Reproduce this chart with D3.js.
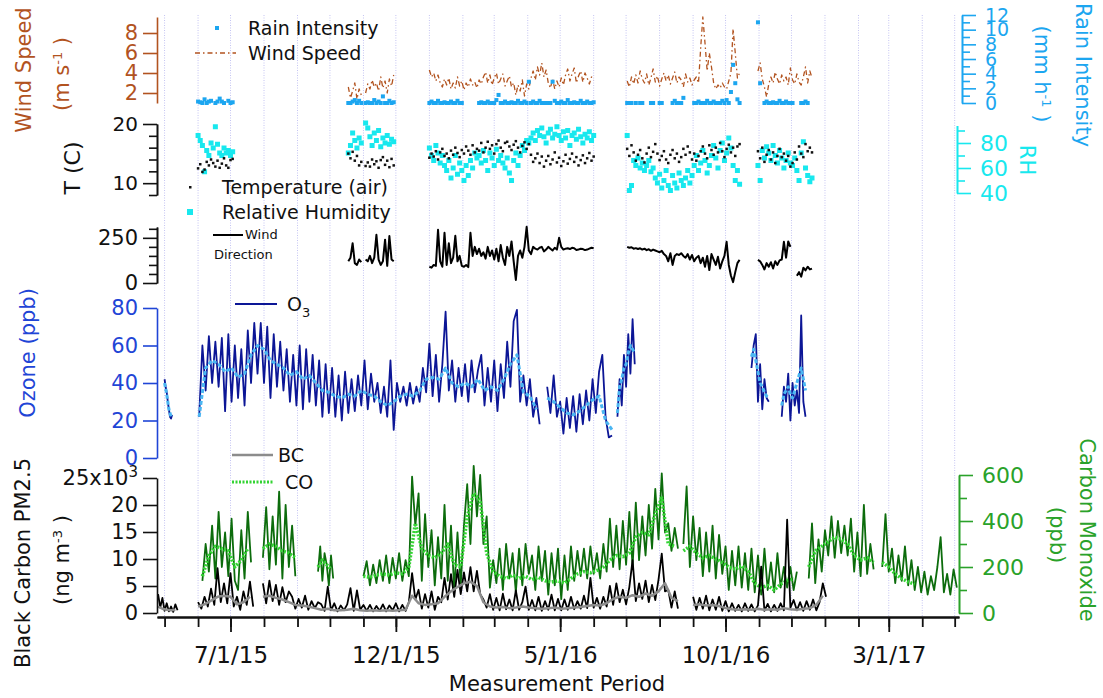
<!DOCTYPE html>
<html>
<head>
<meta charset="utf-8">
<script src="https://cdn.jsdelivr.net/npm/d3@7"></script>
<style>
  body { margin: 0; background: #fff; }
  text { font-family: "DejaVu Sans", sans-serif; }
</style>
</head>
<body>
<script>
'use strict';

// every series is a list of runs: [first day, days between values, values]
// null means no data for that day

// wind speed (m s-1)
const windSpeed = [
  ["2015-10-18", 2, [2.6, 1.5, 2.2, 3.0, 1.4, 2.4, 1.8, null, 2.0, 2.9, 2.4, 3.3, 2.6, 3.0, 2.2, 3.6, 2.5, 3.2, 2.0, 3.4, 2.7, 3.8]],
  ["2016-01-01", 2, [4.3, 3.6, 4.0, 3.2, 3.8,
    3.0, 2.6, 3.4, 2.8, 3.5, 2.4, 3.0, 2.5, 3.6, 2.7, 3.2, 2.3, 3.0, 2.6, 3.4, 2.8, 3.1, 2.5, 3.3, 2.9,
    3.6, 4.1, 3.0, 3.8, 2.8, 3.5, 4.0, 2.9, 3.4, 3.9, 2.7, 3.2, 3.7,
    2.6, 3.0, 1.8, 2.8, 2.2, 3.3, 1.7, 2.9, 2.4,
    3.5, 4.2, 3.3, 4.6, 3.8, 5.0, 3.6, 4.3,
    3.0, 2.5, 3.4, 2.4, 3.2, 2.6, 3.5, 2.8,
    3.8, 4.4, 3.2, 3.9, 4.5, 3.0, 3.7, 4.2, 3.1, 4.0, 3.5, 2.9, 3.6, 3.3]],
  ["2016-07-02", 2, [3.2, 2.6, 3.6, 2.9, 3.8, 3.0, 4.2, 3.4, 3.0, 3.9, 2.8, 3.5, 4.4, 3.1, 3.7, 2.7, 3.4, 4.0,
    3.2, 3.8, 2.9, 3.5, 4.1, 3.0, 3.6, 3.3, 2.6, 3.9, 3.1, 3.5, 2.8, 3.3, 3.6,
    3.0, 6.5, 9.6, 7.0, 4.2, 6.0, 4.6, 3.0, 2.4, 2.8, 2.5, 3.0, 2.6, 2.4, 3.2, 4.0, 8.4, 6.0, 3.5, 4.0]],
  ["2016-10-31", 2, [4.2, 5.0, 3.4, 2.6, 1.6, 2.9, 3.6, 3.0, 4.1, 3.4, 2.9, 3.8, 3.2, 3.6, 2.8, 4.5, 3.3, 2.9, 3.9, 3.1, 2.8, 3.6, 4.6, 3.0, 4.2, 3.5]]
];

// rain intensity (mm h-1)
const rainIntensity = [
  ["2015-06-01", 2, [0.2, 0.1, 0, 0.5, 0, 0.2, 0.3, null, 0, 0.2, 0.6, 0.2, 0, null, 0.3, 0, 0.1]],
  ["2015-10-18", 2, [0, 0, 0.2, 0.4, 0, 0.3, 0, null, 0, 0.1, 0, 0, 0.4, 0, 0.2, 0, 0.9, 0, 0, 0.3, 0, 0.1]],
  ["2016-01-01", 2, [0, 0.2, 0, 0, 0.3, 0, 0, 0.1, 0, 0, 0.2, 0, 0, 0.3, 0, 0,
    null, null, null, null, null, null, null,
    0, 0.1, 0, 0, 0.2, 0, 0, 0, 0.4, 1.1, 0, 0, 0.2, 0, 0, 0.1, 0, 0, 0.3, 0, 0, 0.2, 0, 2.9,
    0, 0.2, 0, 0, 0.3, 0, 0, 0, 0, 0, 2.9, 0.3, 0, 0, 0.2, 0, 0, 0.4, 0, 0, 0.1, 0, 0, 0.3, 0, 0, 0.2, 0, 0, 0.1]],
  ["2016-07-02", 2, [0, 0, 0, null, 0, null, 0, 0, null, null, null, 0, 0, null, null, 0, 0, null, null, null,
    null, 0, 0.3, 0, 0, 0, 0.7, null, null, null, null, 0, 0, 0.2, 0, 0, 0, 0.3, 0, 0,
    0.2, 0, 0, 0, 0.3, 0, 0.4, 0, 1.5, 5.2, 2.7, 0.5, 0]],
  ["2016-10-31", 2, [11.0, 2.7, null, 0, 0.2, 0, 0, 0.1, 0, 0, 0.3, 0, 0, 0.2, 0, 0, 0, null, null, null, 0, 0, 0.2, 0, null, null]]
];

// air temperature (C)
const temperature = [
  ["2015-06-01", 2, [12.5, 13.2, 11.9, 12.3, 13.6, 13.0, 14.0, 13.4, 12.8, 13.8, 12.6, 13.3, 14.2, 13.0, 12.6, 13.9, 14.1]],
  ["2015-10-18", 2, [15.0, 14.2, 15.3, 13.8, 14.6, 13.0, 13.6, null, 12.9, 13.5, 12.8, 14.0, 13.2, 13.7, 12.6, 13.9, 14.4, 13.1, 13.8, 12.7, 14.1, 13.0]],
  ["2016-01-01", 2, [14.3, 15.0, 14.5, 15.4, 14.0, 15.2, 15.8, 14.6, 15.0, 14.2, 15.5, 14.8, 16.0, 15.1, 14.4, 15.6,
    15.0, 16.2, 15.5, 14.8, 16.4, 15.2, 15.8,
    15.5, 16.8, 15.2, 16.0, 17.0, 15.8, 16.4, 15.0, 16.6, 17.2, 16.0, 15.4, 16.8, 17.0, 16.2, 15.6, 16.5, 17.1, 16.0, 15.2, 16.3, 16.9, 15.8, 16.6,
    14.8, 13.6, 14.2, 15.0, 13.4, 14.5, 12.8, 13.8, 14.6, 13.2, 14.0, 15.2, 13.5, 14.3, 12.9, 13.7, 14.8, 13.3, 14.1, 15.0, 13.6, 14.4, 13.0, 13.9, 14.7, 13.4, 14.2, 15.1, 13.8, 14.5]],
  ["2016-07-02", 2, [15.8, 14.6, 16.4, 15.2, 13.8, 14.8, 15.6, 14.2, 13.5, 15.0, 16.0, 14.4, 15.3, 16.6, 15.0, 13.9, 14.6, 15.4, 14.0, 13.4,
    14.8, 15.6, 14.2, 15.0, 13.6, 14.4, 15.8, 14.8, 16.2, 15.2, 14.0, 15.0, 13.8, 14.6, 15.4, 16.2, 15.0, 14.2, 16.4, 15.6,
    14.8, 16.0, 15.2, 16.8, 15.4, 14.4, 15.8, 16.5, 15.2, 16.0, 14.6, 16.2, 16.6]],
  ["2016-10-31", 2, [15.4, 14.2, 16.0, 13.6, 14.8, 15.6, 14.0, 15.2, 13.4, 14.6, 15.8, 14.4, 15.0, 13.8, 14.6, 12.8, 13.4, 15.2, 14.0, 16.2, 15.0, 14.4, 16.6, 15.4, 16.0, 15.2]]
];

// relative humidity (%)
const humidity = [
  ["2015-06-01", 2, [86, 82, 78, 57, 74, 70, 80, 76, 93, 79, 72, 70, 76, 72, 74, 70, 73]],
  ["2015-10-18", 2, [72, 78, 88, 82, 76, 84, 80, null, 96, 92, 85, 78, 88, 82, 90, 77, 84, 80, 86, 79, 83, 81]],
  ["2016-01-01", 2, [76, 70, 66, 78, 72, 64, 70, 62, 58, 66, 52, 60, 70, 55, 64, 58,
    50, 62, 54, 66, 60, 72, 68,
    70, 64, 74, 66, 58, 72, 68, 62, 75, 66, 70, 64, 60, 68, 56, 50, 66, 72, 62, 70, 78, 74, 82, 80,
    84, 88, 82, 90, 86, 92, 85, 80, 88, 91, 84, 87, 93, 86, 82, 89, 84, 90, 78, 86, 88, 83, 91, 85, 80, 87, 84, 89, 82, 86]],
  ["2016-07-02", 2, [86, 42, 46, 66, 62, 68, 60, 64, 58, 62, 66, 57, 60, 52, 48, 55, 44, 50, 58, 46,
    42, 54, 48, 44, 56, 50, 46, 52, 58, 48, 54, 62, 70, 58, 64, 74, 66, 56, 62, 70,
    78, 68, 60, 74, 80, 66, 72, 84, 76, 62, 50, 58, 47]],
  ["2016-10-31", 2, [62, 50, 74, 68, 77, 72, 66, 78, 70, 64, 74, 68, 60, 66, 72, 64, 62, 68, 58, 50, 72, 81, 60, 54, 49, 52]]
];

// wind direction (degrees)
const windDirection = [
  ["2015-10-18", 2, [120, 140, 220, 110, 100, 130, 115, null, 130, 120, 150, 110, 140, 267, 130, 100, 120, 240, 95, 260, 130, 120]],
  ["2016-01-01", 2, [90, 85, 100, 95, 295, 120, 90, 278, 100, 220, 110, 140, 261, 120, 150, 95, 90, 100, 88, 278,
    150, 200, 160, 190, 150, 170, 135, 200, 150, 180, 130, 190, 120, 210, 140, 100, 200, 150, 230, 120,
    17, 150, 180, 140, 200, 311, 180, 160, 200, 190, 185, 195, 200, 175, 185, 200, 190, 180, 195, 185,
    250, 200, 185, 190, 192, 188, 195, 192, 183, 185, 190, 188, 182, 185, 190, 195, 192]],
  ["2016-07-02", 2, [200, 195, 198, 190, 193, 188, 192, 185, 190, 182, 187, 178, 185, 180, 175, 170, 178, 160, 150, 120,
    165, 100, 150, 160, 155, 165, 150, 140, 160, 130, 155, 120, 140, 150, 110, 140, 90, 150, 72, 160,
    130, 100, 145, 80, 120, 150, 228, 100, 40, 5, 60, 110, 128]],
  ["2016-10-31", 2, [128, 120, 100, 75, 110, 90, 115, 80, 120, 100, 125, 130, 228, 140, 230, 200, null, null, 40, 60, 35, 85, 70, 90, 75, 80]]
];

// ozone (ppb), measured and smoothed
const ozone = [
  ["2015-05-01", 1, [42, 38, 35, 30, 26, 22, 21, 23]],
  ["2015-06-02", 3, [22, 60, 36, 65, 40, 62, 38, 64, 25, 66,
    30, 60, 32, 58, 28, 68, 40, 72, 45, 72,
    40, 70, 32, 66, 38, 62, 36, 58, 30, 55,
    28, 60, 26, 58, 30, 55, 28, 52, 22, 50,
    24, 48, 22, 44, 20, 46, 24, 42, 25, 44,
    28, 52, 26, 45, 30, 40, 24, 38, 22, 52,
    15, 40, 30, 38, 28, 40, 29, 38, 30, 48,
    35, 61, 33, 55, 30, 50, 78, 36, 52, 30,
    48, 33, 50, 30, 52, 35, 47, 55, 28, 48,
    30, 52, 25, 50, 32, 62, 38, 73, 79, 30,
    44, 28, 42, 22, 32, 18]],
  ["2016-04-19", 3, [38, 24, 44, 22, 30, 13, 32, 16, 33, 14, 34, 18, 36, 20, 42, 24, 46, 55, 22, 11, 12]],
  ["2016-06-23", 2, [22, 42, 28, 55, 38, 66, 45, 74, 50]],
  ["2016-10-25", 2, [48, 60, 66, 30, 50, 26, 42, 32, 30]],
  ["2016-11-22", 2, [22, 38, 30, 45, 20, 40, 28, 36, 24, 76, 30, 22]]
];
const ozoneSmooth = [
  ["2015-05-01", 2, [40, 34, 26, 22]],
  ["2015-06-02", 6, [22, 48, 52, 50, 46, 48, 43, 45, 55, 60, 58, 52, 50, 48, 44, 46, 42, 44, 40, 36,
    35, 33, 32, 34, 33, 36, 34, 33, 30, 28, 30, 33, 34, 33, 36, 42, 43, 42, 48, 40,
    38, 40, 38, 42, 36, 38, 36, 42, 50, 55, 35, 33, 26]],
  ["2016-04-19", 6, [32, 30, 27, 24, 23, 25, 28, 31, 33, 20, 15]],
  ["2016-06-23", 2, [24, 38, 42, 48, 50, 56, 60, 58, 56]],
  ["2016-10-25", 2, [54, 58, 52, 46, 40, 38, 35, 33, 32]],
  ["2016-11-22", 2, [28, 34, 36, 38, 34, 32, 36, 40, 44, 48, 42, 36]]
];

// black carbon PM2.5 (10^3 ng m-3), measured and smoothed
const blackCarbon = [
  ["2015-04-25", 2, [3.5, 1.0, 2.8, 0.4, 1.8, 0.3, 1.2, 0.2, 1.6, 0.5]],
  ["2015-06-01", 3, [2.0, 0.8, 3.0, 1.2, 4.5, 1.5, 8.3, 2.0, 5.5, 1.8, 7.4, 1.2, 3.0, 0.6, 4.0, 1.5, 5.8, 1.2]],
  ["2015-07-31", 3, [5.5, 1.8, 6.0, 2.2, 5.2, 1.5, 4.8, 2.0, 4.0,
    3.0, 0.8, 2.6, 1.0, 3.2, 0.6, 2.2, 0.9, 2.0,
    1.6, 0.4, 4.9, 0.5, 1.8, 0.3, 1.4, 0.5, 1.6, 4.6, 0.4, 4.2, 0.6, 1.5,
    0.4, 1.5, 0.3, 1.3, 0.4, 1.6, 0.3, 1.4, 0.5, 1.8, 0.3, 1.5, 0.4, 2.0,
    7.4, 2.5,
    4.3, 0.8, 3.5, 1.0, 4.0, 0.6, 3.0,
    2.0, 6.5, 2.5, 7.2, 3.0, 8.0, 3.5, 7.5, 4.0,
    8.5, 4.0, 7.8, 3.5,
    2.5, 1.0,
    3.5, 0.6, 2.8, 0.5, 3.6, 0.7, 2.5, 0.5, 4.2, 0.6, 2.0, 4.9, 0.6, 2.4, 0.5, 3.0, 0.4, 2.2, 0.6, 3.4, 0.5, 2.6,
    0.5, 2.5, 0.6, 3.0, 0.7, 2.2, 0.8, 3.2, 0.9, 6.5, 1.0, 2.8, 0.8, 3.0, 1.2,
    5.0, 1.5, 5.5, 2.0, 4.3, 1.6, 4.8,
    9.8, 2.2, 5.5, 2.6, 6.0, 2.0, 5.2, 2.4, 6.2,
    11.0, 4.0,
    4.3, 1.0, 4.0, 0.8]],
  ["2016-09-01", 3, [3.0, 0.6, 2.8, 0.8, 3.2, 0.5, 2.5, 0.6, 3.0, 0.4, 2.2,
    0.3, 1.8, 0.4, 1.5, 0.3, 1.8, 0.4, 1.6, 0.3, 1.4, 8.6, 0.4, 1.7, 0.3, 1.5, 0.4, 1.8, 0.5,
    17.3,
    1.0, 2.4, 0.5, 2.0, 0.4, 2.2, 0.6, 2.5, 0.5, 2.0,
    5.5, 3.0]]
];
const blackCarbonSmooth = [
  ["2015-04-25", 4, [1.2, 0.8, 0.6, 0.5, 0.6]],
  ["2015-06-01", 6, [1.2, 1.6, 2.3, 3.0, 3.2, 3.0, 1.6, 2.0, 3.0]],
  ["2015-07-31", 6, [3.0, 3.2, 2.8, 2.5, 2.0, 1.5, 1.4, 1.2, 0.9, 0.6, 0.8, 0.5, 0.5, 0.6, 0.8, 0.5, 0.4, 0.5, 0.4, 0.5,
    0.4, 0.5, 0.6, 3.2, 1.8, 1.5, 1.6, 1.8, 3.0, 4.0, 4.8, 5.5, 5.8, 5.0, 2.0, 1.2, 1.0, 1.1, 0.9, 1.0,
    1.2, 1.0, 0.9, 0.8, 0.9, 1.0, 0.8, 0.9, 1.0, 1.1, 1.3, 1.5, 1.4, 1.8, 2.6, 3.0, 2.8, 3.3, 3.0, 3.6,
    3.2, 4.0, 5.5, 2.8, 2.2]],
  ["2016-09-01", 6, [1.5, 1.6, 1.4, 1.5, 1.3, 0.9, 0.7, 0.6, 0.7, 0.6, 0.8, 0.6, 0.7, 0.6, 0.9, 0.7, 0.6, 0.8, 0.9, 1.5, 3.2]]
];

// carbon monoxide (ppb), measured and smoothed
const carbonMonoxide = [
  ["2015-06-05", 3, [140, 300, 180, 380, 150, 440, 200, 350, 160, 410, 140, 100, 360, 150, 440, 220]],
  ["2015-07-31", 3, [240, 460, 190, 420, 210, 528, 150, 470, 200, 380, 160]],
  ["2015-09-20", 2, [180, 290, 140, 260, 210, 120, 250, 150]],
  ["2015-11-01", 3, [160, 225, 120, 210, 130, 230, 140,
    250, 130, 240, 150, 260, 140, 230, 160,
    593, 380,
    520, 140, 430, 200,
    360, 120, 330,
    150, 470, 140, 380,
    100, 350, 120,
    380, 560, 300, 640, 420, 600,
    300, 420,
    110, 230,
    130, 280, 100, 300, 150, 260, 90, 280, 120, 300, 170, 250, 100, 290, 140, 270, 80, 260, 120, 280,
    60, 250, 100,
    290, 140, 270, 160, 280, 150, 290, 170, 260, 150, 300,
    180, 410, 200, 380, 190, 400, 210, 440,
    200, 480, 230, 420, 250, 470,
    280, 540, 320, 607, 350,
    390, 270, 370, 280]],
  ["2016-08-23", 3, [300, 550, 200, 420, 230, 370, 160, 350, 180, 380, 150, 340, 170, 290, 100, 270, 120, 290,
    110, 260, 100, 280, 90, 250, 80, 280, 100, 220, 90, 260, 110, 200, 110, 200, 100, 180]],
  ["2016-12-17", 3, [150, 390, 130, 320, 180, 360, 250, 420, 240, 400, 260, 380, 250, 410, 180, 350, 160, 470, 170, 300, 190]],
  ["2017-02-23", 3, [200, 430, 180, 280, 130, 250, 140, 290, 120, 230, 100, 200, 90, 180, 80, 160, 100, 200, 330, 90, 170, 80, 190, 110]]
];
const carbonMonoxideSmooth = [
  ["2015-06-05", 6, [160, 250, 290, 280, 270, 200, 230, 280]],
  ["2015-07-31", 6, [280, 300, 290, 270, 260, 240]],
  ["2015-09-20", 4, [200, 230, 210, 190]],
  ["2015-11-01", 6, [160, 155, 165, 170, 165, 175, 170, 200, 390, 280, 250, 240, 260, 300, 210, 200, 420, 520, 490, 260,
    180, 160, 150, 165, 150, 160, 145, 155, 140, 135, 140, 130, 150, 170, 180, 175, 185, 200, 230, 250,
    245, 260, 330, 350, 340, 430, 500, 300, 290]],
  ["2016-08-23", 6, [270, 290, 260, 240, 250, 235, 220, 200, 190, 205, 180, 130, 110, 120, 100, 125, 140, 150]],
  ["2016-12-17", 6, [200, 270, 290, 310, 330, 320, 300, 250, 230, 240, 220]],
  ["2017-02-23", 6, [220, 200, 170, 150, 135, 125]]
];

// x axis: labelled months
const labelMonths = ["2015-07-01", "2015-12-01", "2016-05-01", "2016-10-01", "2017-03-01"];

const parseDay = d3.timeParse("%Y-%m-%d");
const font = '"DejaVu Sans", sans-serif';

const svg = d3.select('body').append('svg')
  .attr('width', 1103)
  .attr('height', 698)
  .style('font-family', font);

// shared time scale and one y scale per panel
const x = d3.scaleTime()
  .domain([new Date(2015, 3, 24), new Date(2017, 4, 5)])
  .range([157, 959]);

const yWind = d3.scaleLinear().domain([1, 9.6]).range([103, 17]);
const yRain = d3.scaleLinear().domain([0, 12]).range([103, 15]);
const yTemp = d3.scaleLinear().domain([8, 20]).range([195, 124]);
const yRH = d3.scaleLinear().domain([40, 94]).range([193, 125.5]);
const yDir = d3.scaleLinear().domain([0, 310]).range([283, 227]);
const yO3 = d3.scaleLinear().domain([0, 80]).range([458, 308]);
const yBC = d3.scaleLinear().domain([0, 25]).range([613, 478]);
const yCO = d3.scaleLinear().domain([0, 600]).range([613, 475]);

// turn runs into arrays of {date, value}
function expand(runs) {
  return runs.map(([start, step, values]) => {
    const t0 = parseDay(start);
    return values.map((v, i) => ({ date: d3.timeDay.offset(t0, i * step), value: v }));
  });
}

function drawLines(runs, y, color, width, dash) {
  const line = d3.line()
    .defined(d => d.value !== null)
    .x(d => x(d.date))
    .y(d => y(d.value));
  svg.append('g').selectAll('path')
    .data(expand(runs))
    .join('path')
    .attr('d', line)
    .attr('fill', 'none')
    .attr('stroke', color)
    .attr('stroke-width', width)
    .attr('stroke-linejoin', 'round')
    .attr('stroke-dasharray', dash || null);
}

function drawSquares(runs, y, color, size) {
  const pts = expand(runs).flat().filter(d => d.value !== null);
  svg.append('g').selectAll('rect')
    .data(pts)
    .join('rect')
    .attr('x', d => x(d.date) - size / 2)
    .attr('y', d => y(d.value) - size / 2)
    .attr('width', size)
    .attr('height', size)
    .attr('fill', color);
}

// vertical monthly grid
const months = d3.timeMonth.range(new Date(2015, 4, 1), new Date(2017, 4, 2));
svg.append('g').selectAll('line')
  .data(months)
  .join('line')
  .attr('x1', d => x(d)).attr('x2', d => x(d))
  .attr('y1', 15).attr('y2', 617)
  .attr('stroke', '#c4c4f2')
  .attr('stroke-width', 1)
  .attr('stroke-dasharray', '1,1.5');

// bottom panel: CO then BC
drawLines(carbonMonoxide, yCO, '#0c6c0c', 1.8);
drawLines(carbonMonoxideSmooth, yCO, '#33d433', 3.5, '2,1.5');
drawLines(blackCarbon, yBC, '#000', 1.8);
drawLines(blackCarbonSmooth, yBC, '#8c8c8c', 2.5);

// ozone
drawLines(ozone, yO3, '#0c1696', 1.8);
drawLines(ozoneSmooth, yO3, '#4ab6f2', 3, '4,2');

// wind direction
drawLines(windDirection, yDir, '#000', 2);

// temperature / RH
drawSquares(humidity, yRH, '#18e8ee', 5);
drawSquares(temperature, yTemp, '#111', 2.5);

// wind speed / rain
drawLines(windSpeed, yWind, '#b2531f', 1.3, '5,3,1.5,3');
drawSquares(rainIntensity, yRain, '#1ca6f0', 4);

// axes
function yAxis(scale, xPos, side, major, minor, color, size, fmt) {
  const axisFn = side === 'left' ? d3.axisLeft : d3.axisRight;
  const g = svg.append('g').attr('transform', `translate(${xPos},0)`);
  if (minor) {
    g.append('g').call(axisFn(scale).tickValues(minor).tickSize(8).tickSizeOuter(0).tickFormat(''));
  }
  g.append('g').call(axisFn(scale).tickValues(major).tickSize(14).tickSizeOuter(0)
    .tickPadding(side === 'left' ? 5 : 9).tickFormat(fmt || d3.format('d')));
  g.selectAll('path, line').attr('stroke', color).attr('stroke-width', 1.6);
  g.selectAll('text').attr('fill', color).style('font-size', size + 'px').style('font-family', font);
  return g;
}

yAxis(yWind, 157, 'left', [2, 4, 6, 8], null, '#b2531f', 21);
yAxis(yTemp, 157, 'left', [10, 20], [8, 12, 14, 16, 18], '#111', 20);
yAxis(yDir, 157, 'left', [0, 250], [50, 100, 150, 200, 300], '#111', 21);
yAxis(yO3, 157, 'left', [0, 20, 40, 60, 80], null, '#1f45d6', 21);
const bcAxis = yAxis(yBC, 157, 'left', [0, 5, 10, 15, 20, 25], null, '#111', 21,
  d => d === 25 ? '25x10' : d);
bcAxis.selectAll('.tick text').filter(d => d === 25)
  .append('tspan').attr('dy', '-0.55em').style('font-size', '15px').text('3');

yAxis(yRain, 962, 'right', [0, 2, 4, 6, 8, 10, 12], [1, 3, 5, 7, 9, 11], '#1ca6f0', 19);
yAxis(yRH, 957, 'right', [40, 60, 80], [50, 70, 90], '#18e8ee', 22);
yAxis(yCO, 959, 'right', [0, 200, 400, 600], [100, 300, 500], '#2aa22a', 22);

// x axis
const xg = svg.append('g').attr('transform', 'translate(0,617)');
xg.append('g').call(d3.axisBottom(x).tickValues(months).tickSize(10).tickSizeOuter(0).tickFormat(''));
xg.append('g').call(d3.axisBottom(x).tickValues(labelMonths.map(parseDay))
  .tickSize(15).tickSizeOuter(0).tickPadding(15).tickFormat(d3.timeFormat('%-m/%-d/%y')));
xg.selectAll('path, line').attr('stroke', '#111').attr('stroke-width', 1.8);
xg.selectAll('text').attr('fill', '#111').style('font-size', '23px').style('font-family', font);

svg.append('text')
  .attr('x', 557).attr('y', 691)
  .attr('text-anchor', 'middle')
  .style('font-size', '21px')
  .attr('fill', '#111')
  .text('Measurement Period');

// rotated axis titles
function title(cx, cy, angle, color, size, parts) {
  const t = svg.append('text')
    .attr('transform', `translate(${cx},${cy}) rotate(${angle})`)
    .attr('text-anchor', 'middle')
    .attr('dy', '0.35em')
    .attr('fill', color)
    .style('font-size', size + 'px');
  parts.forEach(p => {
    const s = t.append('tspan').text(p.text);
    if (p.sup) s.attr('dy', '-0.6em').style('font-size', (size * 0.62) + 'px');
    if (p.back) s.attr('dy', '0.37em');
  });
}

title(24, 70, -90, '#b2531f', 21, [{ text: 'Wind Speed' }]);
title(62, 74, -90, '#b2531f', 21, [{ text: '(m s' }, { text: '-1', sup: true }, { text: ' )', back: true }]);
title(72, 168, -90, '#111', 22, [{ text: 'T (C)' }]);
title(28, 353, -90, '#1f45d6', 21, [{ text: 'Ozone (ppb)' }]);
title(23, 563, -90, '#111', 21, [{ text: 'Black Carbon PM2.5' }]);
title(62, 560, -90, '#111', 21, [{ text: '(ng m' }, { text: '-3', sup: true }, { text: ' )', back: true }]);
title(1083, 75, 90, '#1ca6f0', 21, [{ text: 'Rain Intensity' }]);
title(1042, 74, 90, '#1ca6f0', 21, [{ text: '(mm h' }, { text: '-1', sup: true }, { text: ' )', back: true }]);
title(1027, 160, 90, '#18e8ee', 21, [{ text: 'RH' }]);
title(1087, 530, 90, '#2aa22a', 21, [{ text: 'Carbon Monoxide' }]);
title(1057, 535, 90, '#2aa22a', 21, [{ text: '(ppb)' }]);

// legends
function legendText(lx, ly, txt, size) {
  return svg.append('text')
    .attr('x', lx).attr('y', ly)
    .attr('dy', '0.35em')
    .attr('fill', '#111')
    .style('font-size', size + 'px')
    .text(txt);
}

svg.append('rect').attr('x', 215).attr('y', 26).attr('width', 4).attr('height', 4).attr('fill', '#1ca6f0');
legendText(248, 28, 'Rain Intensity', 19);
svg.append('line').attr('x1', 195).attr('x2', 236).attr('y1', 53).attr('y2', 53)
  .attr('stroke', '#b2531f').attr('stroke-width', 1.3).attr('stroke-dasharray', '5,3,1.5,3');
legendText(248, 53, 'Wind Speed', 19);

svg.append('rect').attr('x', 189).attr('y', 186).attr('width', 2.5).attr('height', 2.5).attr('fill', '#111');
legendText(222, 187, 'Temperature (air)', 19);
svg.append('rect').attr('x', 187).attr('y', 209).attr('width', 6).attr('height', 6).attr('fill', '#18e8ee');
legendText(222, 212, 'Relative Humidity', 19);

svg.append('line').attr('x1', 213).attr('x2', 243).attr('y1', 235).attr('y2', 235)
  .attr('stroke', '#000').attr('stroke-width', 2);
legendText(245, 234, 'Wind', 13);
legendText(214, 254, 'Direction', 13);

svg.append('line').attr('x1', 235).attr('x2', 277).attr('y1', 304).attr('y2', 304)
  .attr('stroke', '#0c1696').attr('stroke-width', 2);
const o3Label = legendText(287, 304, 'O', 19);
o3Label.append('tspan').attr('dy', '0.45em').style('font-size', '13px').text('3');

svg.append('line').attr('x1', 232).attr('x2', 273).attr('y1', 455).attr('y2', 455)
  .attr('stroke', '#8c8c8c').attr('stroke-width', 2.5);
legendText(278, 455, 'BC', 19);
svg.append('line').attr('x1', 232).attr('x2', 273).attr('y1', 482).attr('y2', 482)
  .attr('stroke', '#33d433').attr('stroke-width', 3).attr('stroke-dasharray', '2,1.5');
legendText(285, 482, 'CO', 19);
</script>
</body>
</html>
